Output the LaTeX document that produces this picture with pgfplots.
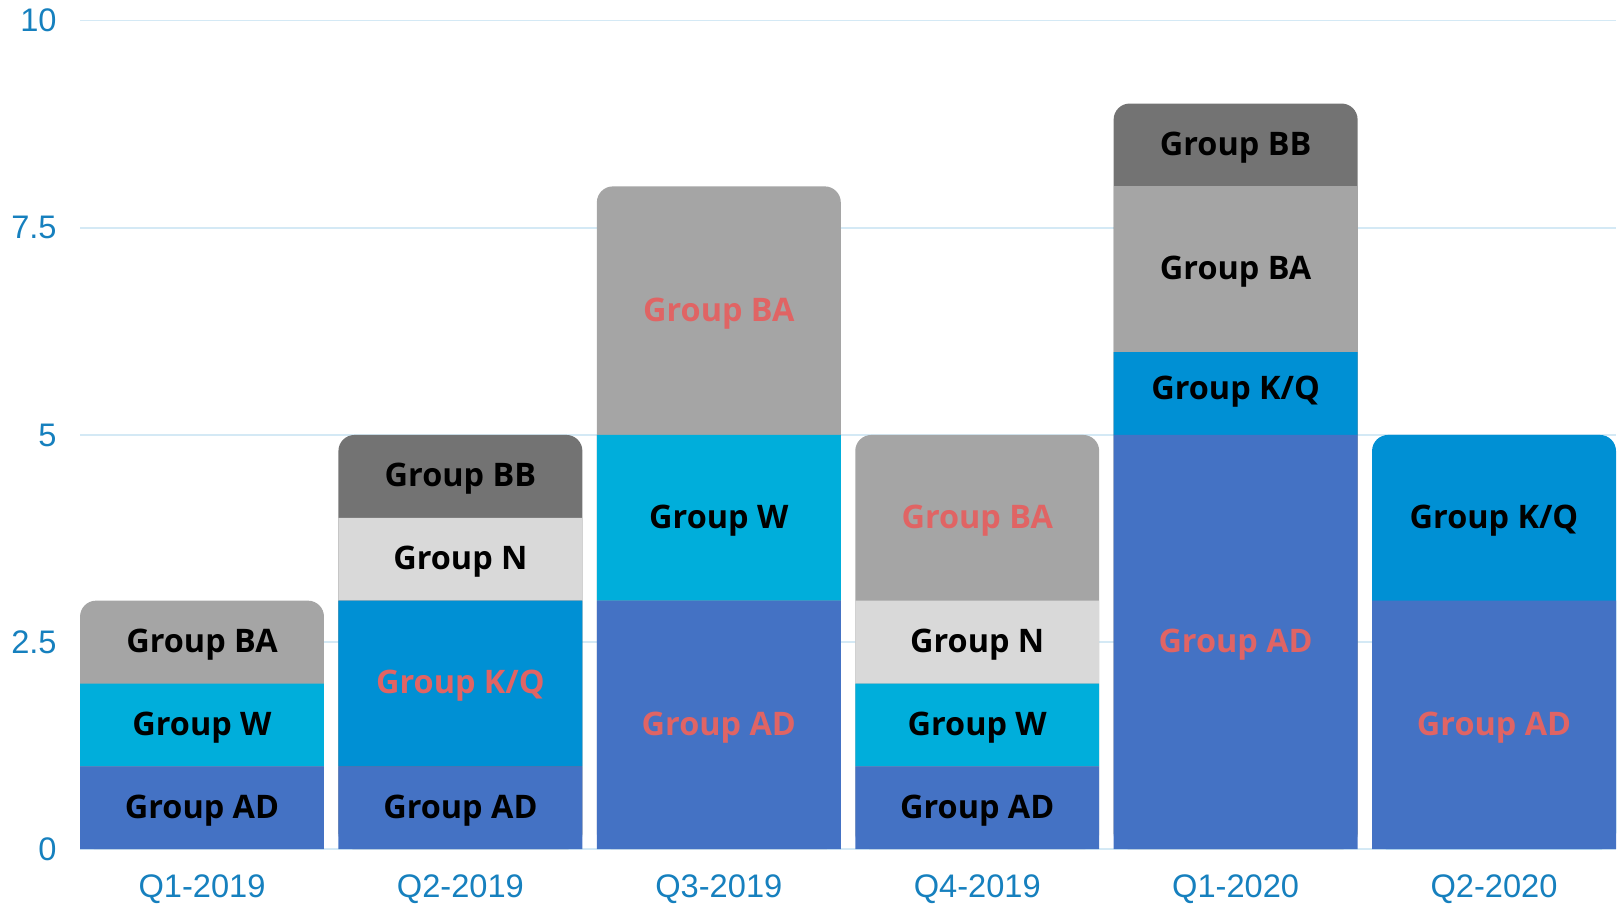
\documentclass[border=0pt]{standalone}
\usepackage{pgfplots}
\pgfplotsset{compat=1.18}
\usepackage{fontspec}
\setmainfont{Liberation Sans}
\newfontfamily\lblfont{Open Sans}
\definecolor{cAD}{RGB}{68,114,196}
\definecolor{cW}{RGB}{0,174,219}
\definecolor{cKQ}{RGB}{0,144,212}
\definecolor{cN}{RGB}{217,217,217}
\definecolor{cBA}{RGB}{165,165,165}
\definecolor{cBB}{RGB}{115,115,115}
\definecolor{tickc}{RGB}{22,128,190}
\definecolor{gridc}{RGB}{212,233,245}
\definecolor{redlbl}{RGB}{224,100,100}
\pgfplotsset{
  base/.style={
    scale only axis, width=767.5pt, height=414pt,
    xmin=-0.472, xmax=5.472, ymin=0, ymax=10,
    at={(0,0)}, anchor=south west,
  },
  lbl/.style={draw=none, mark=none, nodes near coords, point meta=explicit symbolic,
    every node near coord/.append style={anchor=center, inner sep=0pt, yshift=-1.3pt,
      font=\lblfont\bfseries\fontsize{16.2}{19}\selectfont, text=#1}},
}
\begin{document}
\begin{tikzpicture}
% background: full-height bars with rounded tops (colour of the top segment)
\begin{axis}[base, ybar, bar width=121.9pt,
  axis line style={draw=none}, major tick length=0pt,
  ytick={0,2.5,5,7.5,10}, yticklabels={0,2.5,5,7.5,10},
  xtick={0,1,2,3,4,5}, xticklabels={Q1-2019,Q2-2019,Q3-2019,Q4-2019,Q1-2020,Q2-2020},
  ymajorgrids, grid style={gridc, line width=0.8pt},
  tick label style={font=\fontsize{16.3}{19}\selectfont, text=tickc, inner sep=0pt},
  yticklabel style={anchor=east, xshift=-11.5pt},
  xticklabel style={anchor=north, yshift=-12.3pt},
  /pgf/number format/assume math mode=true,
]
\addplot[fill=cBA, draw=none, bar shift=0pt, rounded corners=8pt] coordinates {(0,3) (2,8) (3,5)};
\addplot[fill=cBB, draw=none, bar shift=0pt, rounded corners=8pt] coordinates {(1,5) (4,9)};
\addplot[fill=cKQ, draw=none, bar shift=0pt, rounded corners=8pt] coordinates {(5,5)};
\end{axis}
% stacked lower segments
\begin{axis}[base, hide axis, ybar stacked, bar width=121.9pt]
\addplot[fill=cAD, draw=none] coordinates {(0,1) (1,1) (2,3) (3,1) (4,5) (5,3)};
\addplot[fill=cW, draw=none] coordinates {(0,1) (1,0) (2,2) (3,1) (4,0) (5,0)};
\addplot[fill=cKQ, draw=none] coordinates {(0,0) (1,2) (2,0) (3,0) (4,1) (5,0)};
\addplot[fill=cN, draw=none] coordinates {(0,0) (1,1) (2,0) (3,1) (4,0) (5,0)};
\addplot[fill=cBA, draw=none] coordinates {(0,0) (1,0) (2,0) (3,0) (4,2) (5,0)};
\end{axis}
% labels
\begin{axis}[base, hide axis]
\addplot[lbl=black] coordinates {
 (0,0.5)[Group AD] (0,1.5)[Group W] (0,2.5)[Group BA]
 (1,0.5)[Group AD] (1,3.5)[Group N] (1,4.5)[Group BB]
 (2,4)[Group W]
 (3,0.5)[Group AD] (3,1.5)[Group W] (3,2.5)[Group N]
 (4,5.55)[Group K/Q] (4,7)[Group BA] (4,8.5)[Group BB]
 (5,4)[Group K/Q]};
\addplot[lbl=redlbl] coordinates {
 (1,2)[Group K/Q] (2,1.5)[Group AD] (2,6.5)[Group BA]
 (3,4)[Group BA] (4,2.5)[Group AD] (5,1.5)[Group AD]};
\end{axis}
\path (-40pt,-27pt) rectangle (769pt,424.35pt);
\end{tikzpicture}
\end{document}
